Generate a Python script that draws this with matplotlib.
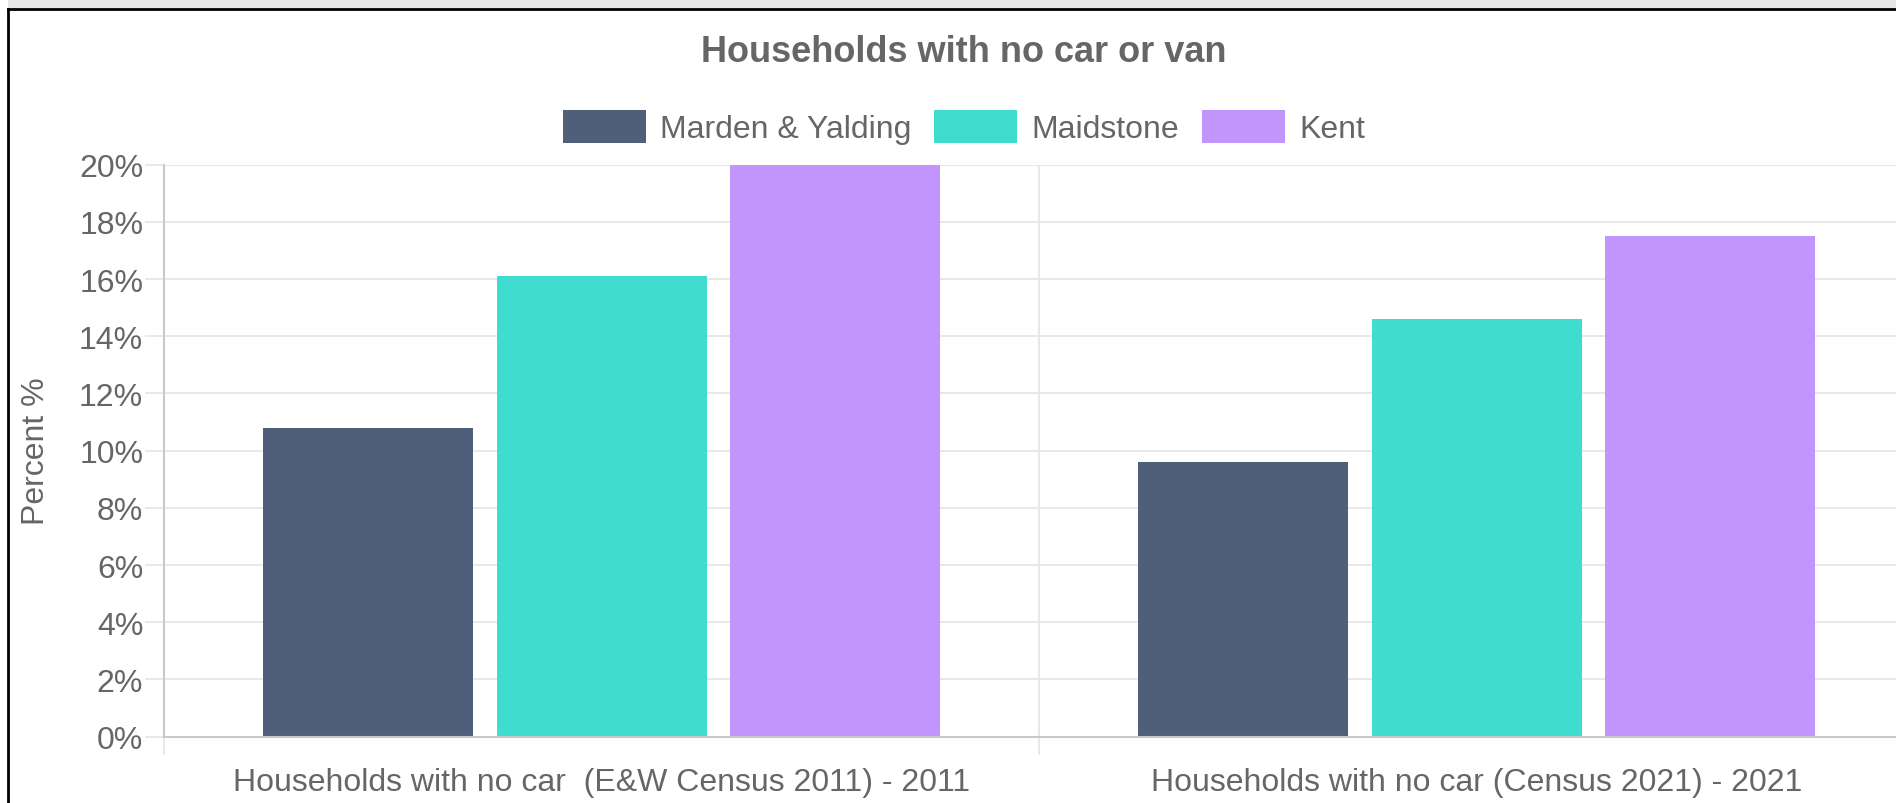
import matplotlib
matplotlib.use("Agg")
import matplotlib.pyplot as plt
from matplotlib.patches import Patch, Rectangle
import numpy as np

plt.rcParams['font.family'] = ['Liberation Sans', 'DejaVu Sans']

categories = ["Households with no car  (E&W Census 2011) - 2011",
              "Households with no car (Census 2021) - 2021"]
series = ["Marden & Yalding", "Maidstone", "Kent"]
marden = [10.8, 9.6]
maidstone = [16.1, 14.6]
kent = [20.0, 17.5]
colors = ["#4f5f7a", "#40dcd0", "#c195fb"]
yticks = [0, 2, 4, 6, 8, 10, 12, 14, 16, 18, 20]

W, H = 1896, 804
fig = plt.figure(figsize=(W / 100, H / 100), dpi=100)
fig.patch.set_facecolor("white")

# page frame: grey strip on top and black border
fig.add_artist(Rectangle((8 / W, 1 - 10 / H), 1, 10 / H, transform=fig.transFigure,
                         facecolor="#e6e6e6", edgecolor="none"))
fig.add_artist(plt.Line2D([8 / W, 8 / W], [0, 1 - 10 / H], transform=fig.transFigure,
                          color="black", lw=2))
fig.add_artist(plt.Line2D([8 / W, 1], [1 - 10 / H, 1 - 10 / H], transform=fig.transFigure,
                          color="black", lw=2))

left, right = 164 / W, 1914 / W
bottom, top = 1 - 737.6 / H, 1 - 165.7 / H
ax = fig.add_axes([left, bottom, right - left, top - bottom])

x = np.arange(len(categories))
bw = 0.8 / 3 * 0.9
for i, (vals, c) in enumerate(zip([marden, maidstone, kent], colors)):
    ax.bar(x + (i - 1) * 0.8 / 3, vals, bw, color=c, zorder=3)

ax.set_xlim(-0.5, 1.5)
ax.set_ylim(0, 20)
ax.set_yticks(yticks)
ax.set_yticklabels([f"{v}%" for v in yticks])
ax.set_xticks(x)
ax.set_xticklabels(categories)
ax.set_xticks([-0.5, 0.5, 1.5], minor=True)

grid = "#e6e6e6"
ax.grid(axis="y", color=grid, lw=1.3, zorder=0)
ax.grid(axis="x", which="minor", color=grid, lw=1.3, zorder=0)
ax.tick_params(axis="y", length=14, width=1.3, color=grid, labelsize=23,
               labelcolor="#666666", pad=1)
ax.tick_params(axis="x", which="major", length=0, labelsize=23,
               labelcolor="#666666", pad=22)
ax.tick_params(axis="x", which="minor", length=13, width=1.3, color=grid)

for s in ["top", "right"]:
    ax.spines[s].set_visible(False)
for s in ["left", "bottom"]:
    ax.spines[s].set_color("#c8c8c8")
    ax.spines[s].set_linewidth(1.5)
    ax.spines[s].set_zorder(4)

fig.text(36 / W, 1 - 451 / H, "Percent %", rotation=90, ha="center", va="center",
         fontsize=23, color="#666666")
fig.text(964 / W, 1 - 52 / H, "Households with no car or van", ha="center", va="center",
         fontsize=26, fontweight="bold", color="#666666")

handles = [Patch(facecolor=c, edgecolor="none") for c in colors]
fig.legend(handles, series, loc="center", bbox_to_anchor=(964 / W, 1 - 128 / H),
           ncol=3, frameon=False, fontsize=23, labelcolor="#666666",
           handlelength=2.6, handleheight=1.25, handletextpad=0.45, columnspacing=0.7,
           borderpad=0)

fig.savefig("out.png", dpi=100)
